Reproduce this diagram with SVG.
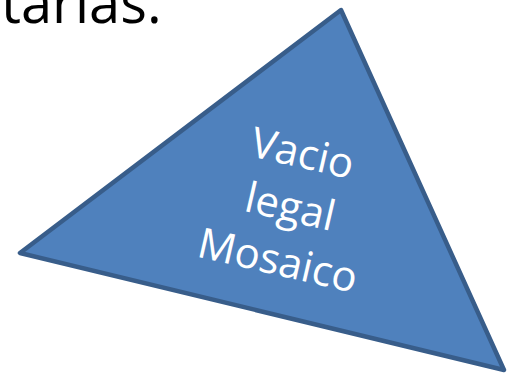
<svg xmlns="http://www.w3.org/2000/svg" width="520" height="379" viewBox="0 0 520 379">
<style>
.title{font-family:"Open Sans","Liberation Sans",sans-serif;font-size:56px;fill:#000}
.lbl{font-family:"Open Sans","Liberation Sans",sans-serif;font-size:42px;fill:#fff;text-anchor:middle}
</style>
<rect width="520" height="379" fill="#fff"/>
<text class="title" x="1" y="23">tarias.</text>
<g id="triangle">
<polygon points="341,10 20,253 504,370" fill="#4f81bd" stroke="#385d8a" stroke-width="4.5" stroke-linejoin="round"/>
<g transform="rotate(13 288 212)">
<text class="lbl" x="289" y="166">Vacio</text>
<text class="lbl" x="289" y="221">legal</text>
<text class="lbl" x="289" y="276">Mosaico</text>
</g>
</g>
</svg>
